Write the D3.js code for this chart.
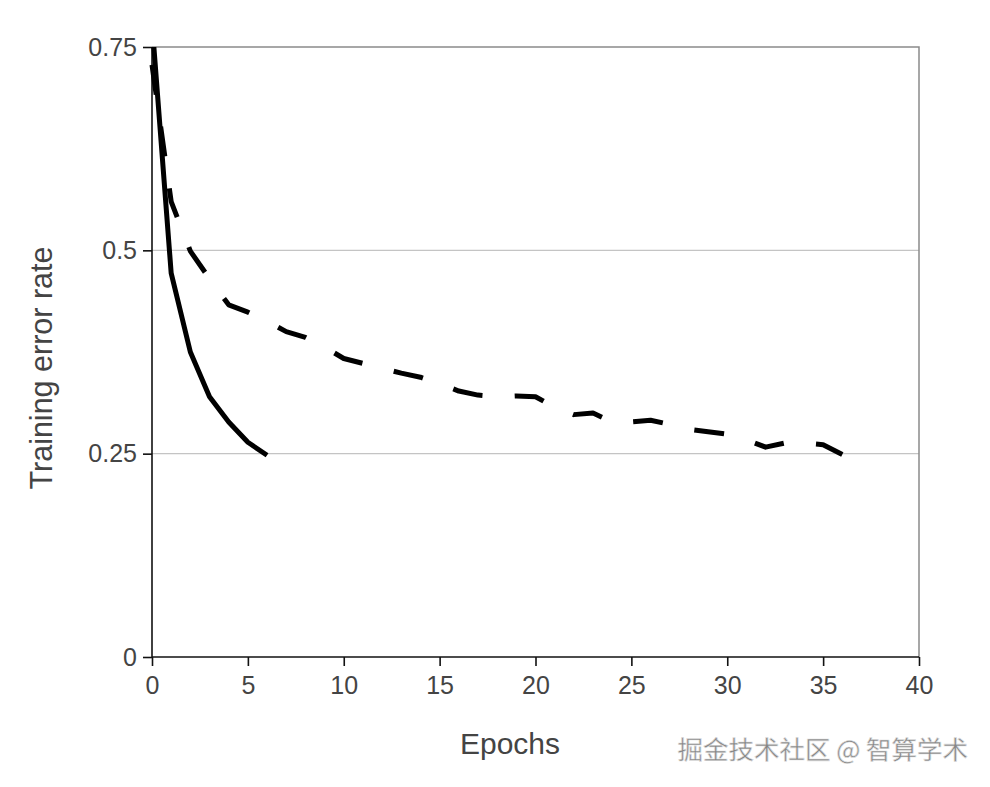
<!DOCTYPE html>
<html>
<head>
<meta charset="utf-8">
<script src="https://cdn.jsdelivr.net/npm/d3@7"></script>
<style>
html,body{margin:0;padding:0;background:#fff;}
svg{display:block;}
</style>
</head>
<body>
<svg id="chart" width="990" height="787"></svg>
<script>
// ---- data ----
const xTicks = [0, 5, 10, 15, 20, 25, 30, 35, 40];
const yTicks = [0, 0.25, 0.5, 0.75];
const yTickLabels = ["0", "0.25", "0.5", "0.75"];
const solidEpochs = [0, 1, 2, 3, 4, 5, 6];
const solidValues = [0.78, 0.472, 0.375, 0.32, 0.289, 0.264, 0.248];
const dashedEpochs = [0,1,2,3,4,5,6,7,8,9,10,11,12,13,14,15,16,17,18,19,20,21,22,23,24,25,26,27,28,29,30,31,32,33,34,35,36];
const dashedValues = [0.728,0.56,0.499,0.465,0.433,0.424,0.413,0.400,0.393,0.381,0.367,0.361,0.355,0.349,0.344,0.336,0.327,0.322,0.320,0.321,0.320,0.307,0.298,0.300,0.289,0.289,0.291,0.286,0.280,0.277,0.274,0.267,0.258,0.263,0.263,0.261,0.249];
const xLabel = "Epochs";
const yLabel = "Training error rate";
const watermark = "掘金技术社区 @ 智算学术";

// ---- layout ----
const svg = d3.select("#chart");
const mLeft = 152, mRight = 919, mTop = 47, mBottom = 657;
const x = d3.scaleLinear().domain([0, 40]).range([mLeft, mRight]);
const y = d3.scaleLinear().domain([0, 0.75]).range([mBottom, mTop]);
const font = "'Liberation Sans', Arial, sans-serif";

svg.append("defs").append("clipPath").attr("id", "plotclip")
  .append("rect").attr("x", mLeft - 10).attr("y", mTop).attr("width", mRight - mLeft + 20).attr("height", mBottom - mTop + 10);

// gridlines
svg.append("g").selectAll("line").data(yTicks.filter(d => d > 0 && d < 0.75)).join("line")
  .attr("x1", mLeft).attr("x2", mRight)
  .attr("y1", d => y(d)).attr("y2", d => y(d))
  .attr("stroke", "#c4c4c4").attr("stroke-width", 1.2);

// frame top/right
svg.append("path")
  .attr("d", `M${mLeft},${y(0.75)}H${x(40)}V${y(0)}`)
  .attr("fill", "none").attr("stroke", "#8a8a8a").attr("stroke-width", 1.5);

// axes
const xAxis = svg.append("g").attr("transform", `translate(0,${y(0)})`)
  .call(d3.axisBottom(x).tickValues(xTicks).tickSize(9).tickPadding(10).tickFormat(d3.format("d")));
const yAxis = svg.append("g").attr("transform", `translate(${x(0)},0)`)
  .call(d3.axisLeft(y).tickValues(yTicks).tickSize(9).tickPadding(6).tickFormat((d, i) => yTickLabels[i]));
[xAxis, yAxis].forEach(g => {
  g.select(".domain").attr("stroke", "#111").attr("stroke-width", 1.6);
  g.selectAll(".tick line").attr("stroke", "#111").attr("stroke-width", 1.6);
  g.selectAll(".tick text").attr("fill", "#444").style("font-family", font).style("font-size", "25px");
});
xAxis.select(".domain").attr("d", `M${x(0)},0H${x(40)}`);
yAxis.select(".domain").attr("d", `M0,${y(0)}V${y(0.75)}`);

// lines
const line = d3.line().x(d => x(d[0])).y(d => y(d[1]));
const g = svg.append("g").attr("clip-path", "url(#plotclip)");
g.append("path")
  .datum(dashedEpochs.map((e, i) => [e, dashedValues[i]]))
  .attr("d", line).attr("fill", "none").attr("stroke", "#000")
  .attr("stroke-width", 5).attr("stroke-dasharray", "30,32.3")
  .attr("stroke-linejoin", "round");
g.append("path")
  .datum(solidEpochs.map((e, i) => [e, solidValues[i]]))
  .attr("d", line).attr("fill", "none").attr("stroke", "#000")
  .attr("stroke-width", 5).attr("stroke-linejoin", "round");

// axis labels
svg.append("text").attr("x", 510).attr("y", 754).attr("text-anchor", "middle")
  .attr("fill", "#444").style("font-family", font).style("font-size", "30px").text(xLabel);
svg.append("text").attr("transform", "translate(52,368) rotate(-90)").attr("text-anchor", "middle")
  .attr("fill", "#444").style("font-family", font).style("font-size", "30.5px").text(yLabel);

// watermark
svg.append("text").attr("x", 968).attr("y", 759).attr("text-anchor", "end")
  .attr("fill", "#858585").attr("stroke", "#e0e0e0").attr("stroke-width", 0.6)
  .style("font-family", "'Noto Sans CJK SC', sans-serif").style("font-size", "25.5px").text(watermark);
</script>
</body>
</html>
